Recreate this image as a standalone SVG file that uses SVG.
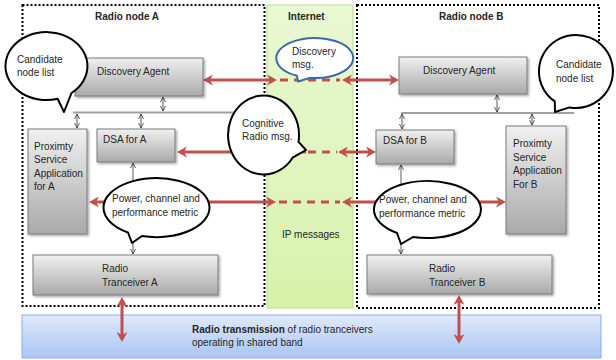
<svg xmlns="http://www.w3.org/2000/svg" width="616" height="360" viewBox="0 0 616 360">
<defs>
<style>
.t{font-family:"Liberation Sans",Arial,sans-serif;font-size:10px;fill:#262626}
.b{font-weight:bold}
.box{fill:url(#gGray);stroke:#7a7a7a;stroke-width:1;filter:url(#sh)}
.dot{fill:none;stroke:#000;stroke-width:2;stroke-dasharray:2 2}
.red{stroke:#c0504d;stroke-width:3;fill:none}
.redd{stroke:#c0504d;stroke-width:3;fill:none;stroke-dasharray:8 6}
.ra{marker-start:url(#rh);marker-end:url(#rh)}
.thin{stroke:#333;stroke-width:0.8;fill:none;marker-start:url(#th);marker-end:url(#th)}
.bub{fill:#fff;stroke:#000;stroke-width:2;stroke-linejoin:round}
.bus{stroke:#a0a0a0;stroke-width:2;fill:none}
</style>
<linearGradient id="gGray" x1="0" y1="0" x2="0" y2="1"><stop offset="0" stop-color="#f0f0f0"/><stop offset="1" stop-color="#a9a9a9"/></linearGradient>
<linearGradient id="gGreen" x1="0" y1="0" x2="0" y2="1"><stop offset="0" stop-color="#eaf8d4"/><stop offset="1" stop-color="#d7f2aa"/></linearGradient>
<linearGradient id="gBlue" x1="0" y1="0" x2="0" y2="1"><stop offset="0" stop-color="#e0eafb"/><stop offset="1" stop-color="#a9c5f3"/></linearGradient>
<filter id="sh" x="-10%" y="-10%" width="130%" height="140%"><feDropShadow dx="1.5" dy="1.5" stdDeviation="1" flood-color="#000" flood-opacity="0.35"/></filter>
<marker id="rh" viewBox="0 0 10 11" refX="6" refY="5.5" markerWidth="10" markerHeight="11" markerUnits="userSpaceOnUse" orient="auto-start-reverse"><path d="M0,0 L10,5.5 L0,11 L3,5.5 z" fill="#c0504d"/></marker>
<marker id="th" viewBox="0 0 6 6" refX="5.5" refY="3" markerWidth="6" markerHeight="6" markerUnits="userSpaceOnUse" orient="auto-start-reverse"><path d="M0.5,0.5 L5.5,3 L0.5,5.5" fill="none" stroke="#333" stroke-width="0.8"/></marker>
</defs>

<g id="regions">
<rect id="internet" x="267" y="5" width="86" height="303" fill="url(#gGreen)" stroke="#b8dc8c" stroke-width="1"/>
<rect id="nodeA" class="dot" x="22.5" y="5" width="242" height="301"/>
<rect id="nodeB" class="dot" x="357" y="5" width="242" height="303"/>
<rect id="band" x="22" y="315" width="579" height="43" fill="url(#gBlue)" stroke="#89aee6" stroke-width="1"/>
<text class="t b" x="95" y="20">Radio node A</text>
<text class="t b" x="288" y="20">Internet</text>
<text class="t b" x="439" y="20">Radio node B</text>
<text class="t" x="282" y="238">IP messages</text>
<text class="t" x="192" y="333"><tspan class="b">Radio transmission</tspan> of radio tranceivers</text>
<text class="t" x="192" y="346">operating in shared band</text>
</g>

<g id="connectors">
<line class="bus" x1="73" y1="112.5" x2="250" y2="112.5"/>
<line class="bus" x1="401" y1="113" x2="574" y2="113"/>
<line class="thin" x1="163" y1="97" x2="163" y2="111"/>
<line class="thin" x1="77" y1="114" x2="77" y2="128"/>
<line class="thin" x1="141" y1="114" x2="141" y2="128"/>
<line class="thin" x1="497" y1="95" x2="497" y2="112"/>
<line class="thin" x1="402" y1="114" x2="402" y2="129"/>
<line class="thin" x1="532" y1="114" x2="532" y2="125"/>
<line class="thin" x1="133" y1="163" x2="133" y2="254"/>
<line class="thin" x1="401" y1="165" x2="401" y2="254"/>
<line class="red ra" x1="207" y1="80" x2="273" y2="80"/>
<line class="redd" x1="280" y1="80" x2="340" y2="80"/>
<line class="red ra" x1="346" y1="80" x2="395" y2="80"/>
<line class="red" x1="181" y1="152" x2="306" y2="152" marker-start="url(#rh)"/>
<line class="redd" x1="308" y1="152" x2="337" y2="152"/>
<line class="red ra" x1="342" y1="152" x2="372" y2="152"/>
<line class="red ra" x1="93" y1="202" x2="272" y2="202"/>
<line class="redd" x1="279" y1="202" x2="340" y2="202"/>
<line class="red ra" x1="346" y1="202" x2="502" y2="202"/>
<line class="red ra" x1="122" y1="301" x2="122" y2="338"/>
<line class="red ra" x1="459" y1="299" x2="459" y2="340"/>
</g>

<g id="discoveryA"><rect class="box" x="75" y="58" width="128" height="38"/><text class="t" x="97" y="75">Discovery Agent</text></g>
<g id="discoveryB"><rect class="box" x="399" y="57" width="128" height="37"/><text class="t" x="423" y="74">Discovery Agent</text></g>
<g id="dsaA"><rect class="box" x="97" y="129" width="78" height="33"/><text class="t" x="103" y="143">DSA for A</text></g>
<g id="dsaB"><rect class="box" x="376" y="130" width="78" height="34"/><text class="t" x="383" y="144">DSA for B</text></g>
<g id="proxA"><rect class="box" x="28" y="129" width="59" height="105"/><text class="t" x="34" y="149.5">Proximty</text><text class="t" x="34" y="163">Service</text><text class="t" x="34" y="176.5">Application</text><text class="t" x="34" y="190">for A</text></g>
<g id="proxB"><rect class="box" x="506" y="126" width="60" height="108"/><text class="t" x="513" y="147">Proximty</text><text class="t" x="513" y="160.5">Service</text><text class="t" x="513" y="174">Application</text><text class="t" x="513" y="187.5">For B</text></g>
<g id="rtA"><rect class="box" x="33" y="255" width="185" height="40"/><text class="t" x="102" y="272">Radio</text><text class="t" x="102" y="285.5">Tranceiver A</text></g>
<g id="rtB"><rect class="box" x="367" y="255" width="185" height="39"/><text class="t" x="429" y="272">Radio</text><text class="t" x="429" y="285.5">Tranceiver B</text></g>

<g id="candA"><path class="bub" d="M57.6 98.8 L64 112 L71.5 93 A41 34 0 1 0 57.6 98.8 Z" transform="translate(0,0)"/><text class="t" x="17" y="63">Candidate</text><text class="t" x="17" y="76">node list</text></g>
<g id="candB"><path class="bub" d="M569.6 107.4 L555 112 L554.8 101.4 A37 36.5 0 1 1 569.6 107.4 Z"/><text class="t" x="556" y="68">Candidate</text><text class="t" x="556" y="81.5">node list</text></g>
<g id="discMsg"><path d="M310 77.9 L298 81.5 L297 75.8 A38.5 20 0 1 1 310 77.9 Z" fill="#fff" stroke="#3a6aa8" stroke-width="2" stroke-linejoin="round"/><text class="t" x="292" y="54.5">Discovery</text><text class="t" x="292" y="67.5">msg.</text></g>
<g id="cogMsg"><path class="bub" d="M298.5 141.9 L306 150 L292.6 157.7 A35.5 39.5 0 1 1 298.5 141.9 Z"/><text class="t" x="242" y="127">Cognitive</text><text class="t" x="242" y="140">Radio msg.</text></g>
<g id="powerA"><path class="bub" d="M142 236 L132 243 L128 232.5 A53 29.5 0 1 1 142 236 Z"/><text class="t" x="112" y="201.5">Power, channel and</text><text class="t" x="112" y="215.5">performance  metric</text></g>
<g id="powerB"><path class="bub" d="M413 237 L401 244 L397 233 A53.5 28.5 0 1 1 413 237 Z"/><text class="t" x="379" y="203">Power, channel and</text><text class="t" x="379" y="217">performance  metric</text></g>
</svg>
